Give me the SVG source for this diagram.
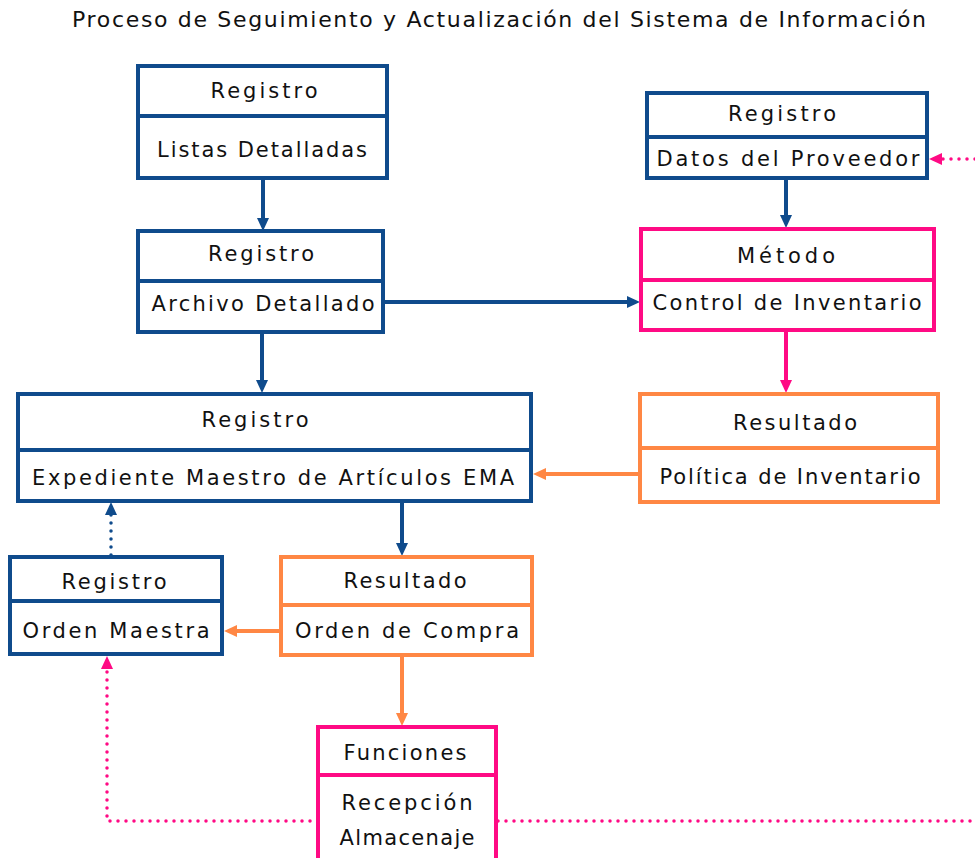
<svg xmlns="http://www.w3.org/2000/svg" width="975" height="858" viewBox="0 0 975 858">
<style>
.bg{fill:#ffffff}
.box{fill:#ffffff;stroke-width:4}
.blue{stroke:#0f4b8c}
.pink{stroke:#ff0a84}
.orange{stroke:#ff8744}
.div{stroke-width:4}
text{font-family:"DejaVu Sans","Liberation Sans",sans-serif;font-size:21px;fill:#111;text-anchor:middle}
.title{font-size:22px}
.c{fill:none;stroke-width:4}
.dot{fill:none;stroke-width:3.5;stroke-linecap:round;stroke-dasharray:0 8}
</style>
<defs>
<marker id="aB" markerUnits="userSpaceOnUse" markerWidth="14" markerHeight="14" refX="4" refY="7" orient="auto"><path d="M0,1 L13,7 L0,13 z" fill="#0f4b8c"/></marker>
<marker id="aP" markerUnits="userSpaceOnUse" markerWidth="14" markerHeight="14" refX="4" refY="7" orient="auto"><path d="M0,1 L13,7 L0,13 z" fill="#ff0a84"/></marker>
<marker id="aO" markerUnits="userSpaceOnUse" markerWidth="14" markerHeight="14" refX="4" refY="7" orient="auto"><path d="M0,1 L13,7 L0,13 z" fill="#ff8744"/></marker>
</defs>
<rect class="bg" x="0" y="0" width="975" height="858"/>
<text class="title" x="499" y="27" textLength="854" lengthAdjust="spacing">Proceso de Seguimiento y Actualización del Sistema de Información</text>

<g id="connectors">
<line class="c blue" x1="263" y1="178" x2="263" y2="222" marker-end="url(#aB)"/>
<line class="c blue" x1="262" y1="332" x2="262" y2="384" marker-end="url(#aB)"/>
<line class="c blue" x1="383" y1="302" x2="631" y2="302" marker-end="url(#aB)"/>
<line class="c blue" x1="786" y1="178" x2="786" y2="219" marker-end="url(#aB)"/>
<line class="c pink" x1="786" y1="330" x2="786" y2="384" marker-end="url(#aP)"/>
<line class="c orange" x1="640" y1="474" x2="542" y2="474" marker-end="url(#aO)"/>
<line class="c blue" x1="402" y1="501" x2="402" y2="547" marker-end="url(#aB)"/>
<line class="c orange" x1="281" y1="631" x2="233" y2="631" marker-end="url(#aO)"/>
<line class="c orange" x1="402" y1="655" x2="402" y2="717" marker-end="url(#aO)"/>
<line class="dot blue" x1="111" y1="555" x2="111" y2="511" marker-end="url(#aB)"/>
<line class="dot pink" x1="975" y1="159" x2="938" y2="159" marker-end="url(#aP)"/>
<polyline class="dot pink" points="318,821 107,821 107,665" marker-end="url(#aP)"/>
<line class="dot pink" x1="498" y1="821" x2="975" y2="821"/>
</g>

<g id="n-listas">
<rect class="box blue" x="138" y="66" width="249" height="112"/>
<line class="div blue" x1="138" y1="116" x2="387" y2="116"/>
<text x="264" y="98" textLength="107" lengthAdjust="spacing">Registro</text>
<text x="262" y="157" textLength="210" lengthAdjust="spacing">Listas Detalladas</text>
</g>

<g id="n-archivo">
<rect class="box blue" x="138" y="231" width="245" height="101"/>
<line class="div blue" x1="138" y1="281" x2="383" y2="281"/>
<text x="261" y="261" textLength="106" lengthAdjust="spacing">Registro</text>
<text x="263" y="311" textLength="223" lengthAdjust="spacing">Archivo Detallado</text>
</g>

<g id="n-datos">
<rect class="box blue" x="647" y="93" width="280" height="85"/>
<line class="div blue" x1="647" y1="137" x2="927" y2="137"/>
<text x="782" y="121" textLength="108" lengthAdjust="spacing">Registro</text>
<text x="788" y="166" textLength="263" lengthAdjust="spacing">Datos del Proveedor</text>
</g>

<g id="n-metodo">
<rect class="box pink" x="641" y="229" width="293" height="101"/>
<line class="div pink" x1="641" y1="280" x2="934" y2="280"/>
<text x="786" y="263" textLength="98" lengthAdjust="spacing">Método</text>
<text x="787" y="310" textLength="269" lengthAdjust="spacing">Control de Inventario</text>
</g>

<g id="n-ema">
<rect class="box blue" x="18" y="394" width="513" height="107"/>
<line class="div blue" x1="18" y1="450" x2="531" y2="450"/>
<text x="255" y="427" textLength="107" lengthAdjust="spacing">Registro</text>
<text x="273" y="485" textLength="482" lengthAdjust="spacing">Expediente Maestro de Artículos EMA</text>
</g>

<g id="n-politica">
<rect class="box orange" x="640" y="394" width="298" height="108"/>
<line class="div orange" x1="640" y1="448" x2="938" y2="448"/>
<text x="795" y="430" textLength="124" lengthAdjust="spacing">Resultado</text>
<text x="790" y="484" textLength="261" lengthAdjust="spacing">Política de Inventario</text>
</g>

<g id="n-maestra">
<rect class="box blue" x="10" y="557" width="212" height="97"/>
<line class="div blue" x1="10" y1="601" x2="222" y2="601"/>
<text x="114" y="589" textLength="105" lengthAdjust="spacing">Registro</text>
<text x="116" y="638" textLength="187" lengthAdjust="spacing">Orden Maestra</text>
</g>

<g id="n-compra">
<rect class="box orange" x="281" y="557" width="251" height="98"/>
<line class="div orange" x1="281" y1="605" x2="532" y2="605"/>
<text x="405" y="588" textLength="123" lengthAdjust="spacing">Resultado</text>
<text x="407" y="638" textLength="224" lengthAdjust="spacing">Orden de Compra</text>
</g>

<g id="n-funciones">
<rect class="box pink" x="318" y="727" width="178" height="140"/>
<line class="div pink" x1="318" y1="775" x2="496" y2="775"/>
<text x="405" y="760" textLength="123" lengthAdjust="spacing">Funciones</text>
<text x="407" y="810" textLength="131" lengthAdjust="spacing">Recepción</text>
<text x="407" y="845" textLength="135" lengthAdjust="spacing">Almacenaje</text>
</g>
</svg>
